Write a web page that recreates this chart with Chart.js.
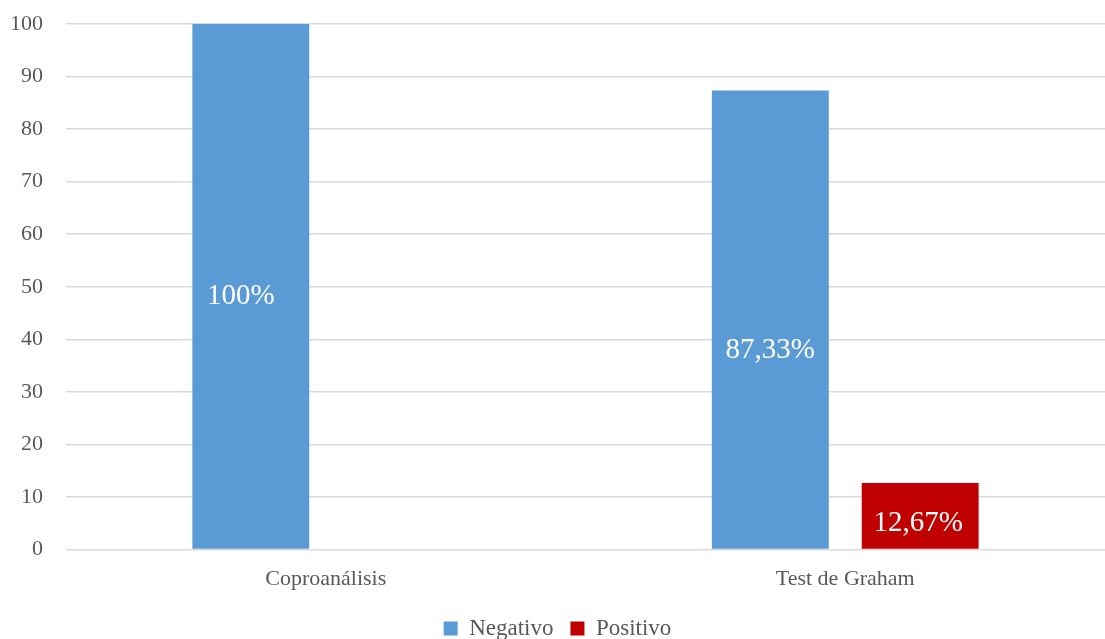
<!DOCTYPE html>
<html>
<head>
<meta charset="utf-8">
<script src="https://cdn.jsdelivr.net/npm/chart.js@4"></script>
<style>
  html, body { margin:0; padding:0; background:#fff; }
  #wrap { width:1105px; height:639px; }
</style>
</head>
<body>
<div id="wrap"><canvas id="grafico" width="1105" height="639"></canvas></div>
<script>
// datos
var categorias = ["Coproanálisis", "Test de Graham"];
var negativo = [100, 87.33];
var positivo = [0, 12.67];
var etiquetasNeg = ["100%", "87,33%"];
var etiquetasPos = ["", "12,67%"];
var ticksY = [0, 10, 20, 30, 40, 50, 60, 70, 80, 90, 100];

// etiquetas blancas dentro de las barras
var etiquetasPlugin = {
    id: "etiquetas",
    afterDatasetsDraw: function(chart, args, opts) {
        var ctx = chart.ctx;
        ctx.save();
        ctx.fillStyle = "#fff";
        ctx.font = "29px 'Liberation Serif', 'Times New Roman', serif";
        ctx.textAlign = "center";
        ctx.textBaseline = "middle";
        var textos = [etiquetasNeg, etiquetasPos];
        chart.data.datasets.forEach(function(ds, d) {
            chart.getDatasetMeta(d).data.forEach(function(bar, i) {
                var t = textos[d][i];
                if (!t) return;
                var cy = (bar.y + bar.base) / 2 + opts.desfase[d][i];
                ctx.fillText(t, bar.x + opts.desfaseX[d][i], cy);
            });
        });
        ctx.restore();
    }
};

var fuente = "'Liberation Serif', 'Times New Roman', serif";

var grafico = new Chart(document.getElementById("grafico"), {
    type: "bar",
    data: {
        labels: categorias,
        datasets: [
            { label: "Negativo", data: negativo, backgroundColor: "#5b9bd5" },
            { label: "Positivo", data: positivo, backgroundColor: "#c00000" }
        ]
    },
    options: {
        responsive: false,
        animation: false,
        categoryPercentage: 0.577,
        barPercentage: 0.78,
        layout: { padding: { top: 24, right: 0, left: 10, bottom: -11 } },
        plugins: {
            tooltip: { enabled: false },
            legend: {
                position: "bottom",
                labels: {
                    font: { family: fuente, size: 23 },
                    color: "#595959",
                    boxWidth: 14,
                    boxHeight: 14,
                    padding: 17
                }
            },
            etiquetas: {
                desfase: [[10, 31], [0, 7]],
                desfaseX: [[-10, 0], [0, -2]]
            }
        },
        scales: {
            x: {
                grid: { display: false },
                border: { display: false },
                ticks: { font: { family: fuente, size: 22 }, color: "#595959", padding: 8 }
            },
            y: {
                min: 0, max: 100,
                afterBuildTicks: function(ax) { ax.ticks = ticksY.map(function(v){ return { value: v }; }); },
                afterFit: function(ax) { ax.width = 56; ax.paddingTop = 0; ax.paddingBottom = 0; },
                grid: { color: "#d9d9d9", lineWidth: 1.5, drawTicks: false },
                border: { display: false },
                ticks: { font: { family: fuente, size: 22 }, color: "#595959", padding: 23 }
            }
        }
    },
    plugins: [etiquetasPlugin]
});
</script>
</body>
</html>
